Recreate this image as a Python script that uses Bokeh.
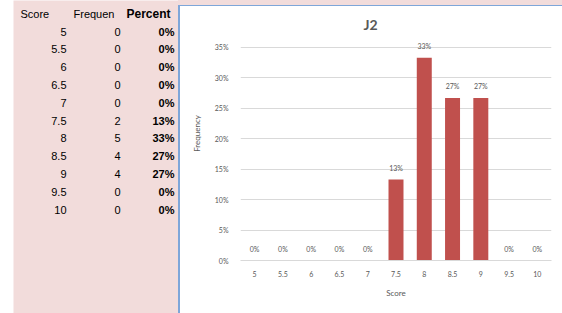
from bokeh.plotting import figure
from bokeh.layouts import row, column
from bokeh.models import (ColumnDataSource, Range1d, FactorRange, Label, Div,
                          NumeralTickFormatter, FixedTicker)
from bokeh.core.properties import value
from bokeh.embed import file_html
from bokeh.resources import INLINE

# ---- data ----
scores = ["5", "5.5", "6", "6.5", "7", "7.5", "8", "8.5", "9", "9.5", "10"]
frequencies = [0, 0, 0, 0, 0, 2, 5, 4, 4, 0, 0]
percents = [0.0, 0.0, 0.0, 0.0, 0.0, 0.133, 0.333, 0.267, 0.267, 0.0, 0.0]
headers = ["Score", "Frequen", "Percent"]
y_tick_step = 0.05
y_tick_count = 8
chart_title = "J2"

pct_labels = ["{:.0f}%".format(v * 100) for v in percents]

PINK = "#F2DCDB"
GREY = "#595959"
BAR = "#C0504D"
BORDER = "#7EA6D9"

H = 313
BOTTOM = 53      # space under the chart frame
PX_PER_UNIT = 608.6   # chart scale: pixels per 100%
ZERO_Y = 260     # page y of the 0% line


def solid(width, height, color):
    return Div(text="", width=width, height=height, margin=0,
               styles={"background-color": color})


# ---- left: worksheet table ----
WA = 165
row_step = 17.8
first_row = 31.0
pa = figure(width=WA, height=H, output_backend="svg", toolbar_location=None,
            x_range=Range1d(0, WA),
            y_range=Range1d((H - first_row) / row_step, -first_row / row_step),
            min_border=0)
pa.axis.visible = False
pa.grid.visible = False
pa.outline_line_color = None
pa.background_fill_color = PINK
pa.border_fill_color = PINK

rows = list(range(len(scores)))
tsrc = ColumnDataSource(dict(r=rows, s=scores, f=[str(v) for v in frequencies], p=pct_labels))
font = value("Liberation Sans")
common = dict(source=tsrc, text_font=font, text_font_size="11px",
              text_baseline="middle", text_color="black")
pa.text(x=53, y="r", text="s", text_align="right", **common)
pa.text(x=107, y="r", text="f", text_align="right", **common)
pa.text(x=161, y="r", text="p", text_align="right", text_font_style="bold", **common)
hsrc = ColumnDataSource(dict(x=[7, 60], y=[-1, -1], t=headers[:2]))
pa.text(x="x", y="y", text="t", source=hsrc, text_font=font, text_font_size="11px",
        text_align="left", text_baseline="middle", text_color="black")
pa.text(x=[113], y=[-1], text=[headers[2]], text_font=font, text_font_size="12px",
        text_align="left", text_baseline="middle", text_color="black",
        text_font_style="bold")

# ---- right: chart ----
WB = 382
TOP_PINK = 5
TOP_LINE = 1
HB = H - TOP_PINK - TOP_LINE
frame_top = TOP_PINK + TOP_LINE
pb = figure(width=WB, height=HB, output_backend="svg", toolbar_location=None,
            x_range=FactorRange(factors=scores, range_padding=0),
            y_range=Range1d(0, (ZERO_Y - frame_top) / PX_PER_UNIT),
            min_border_left=60, min_border_right=11, min_border_top=0,
            min_border_bottom=BOTTOM)
pb.background_fill_color = "white"
pb.border_fill_color = "white"
pb.outline_line_color = None

src = ColumnDataSource(dict(x=scores, y=percents, lab=pct_labels))
pb.vbar(x="x", top="y", width=0.53, source=src, fill_color=BAR, line_color=None)
pb.text(x="x", y="y", text="lab", source=src, y_offset=-8, text_align="center",
        text_baseline="bottom", text_font=value("Lato"), text_font_size="7px",
        text_color=GREY)

cfont = "Lato"
pb.xgrid.visible = False
pb.ygrid.grid_line_color = "#D9D9D9"
pb.ygrid.grid_line_width = 1

pb.yaxis.ticker = FixedTicker(ticks=[i * y_tick_step for i in range(y_tick_count)])
pb.yaxis.formatter = NumeralTickFormatter(format="0%")
pb.yaxis.axis_line_color = None
pb.yaxis.major_tick_line_color = None
pb.yaxis.minor_tick_line_color = None
pb.yaxis.major_tick_out = 0
pb.yaxis.major_label_standoff = 12
pb.yaxis.axis_label = "Frequency"
pb.yaxis.axis_label_standoff = 10

pb.xaxis.axis_line_color = "#D9D9D9"
pb.xaxis.major_tick_line_color = None
pb.xaxis.minor_tick_line_color = None
pb.xaxis.major_tick_out = 0
pb.xaxis.major_label_standoff = 10
pb.xaxis.axis_label = "Score"
pb.xaxis.axis_label_standoff = 8

for ax in (pb.xaxis, pb.yaxis):
    ax.major_label_text_font = cfont
    ax.major_label_text_font_size = "7px"
    ax.major_label_text_color = GREY
    ax.axis_label_text_font = cfont
    ax.axis_label_text_font_size = "8px"
    ax.axis_label_text_font_style = "normal"
    ax.axis_label_text_color = GREY

pb.add_layout(Label(x=130, y=(ZERO_Y - 24) / PX_PER_UNIT, x_units="screen",
                    text=chart_title, text_align="center", text_baseline="middle",
                    text_font=cfont, text_font_size="14px", text_font_style="bold",
                    text_color=GREY))

right = column(solid(WB, TOP_PINK, PINK), solid(WB, TOP_LINE, BORDER), pb, spacing=0)
edge = column(solid(2, TOP_PINK, PINK), solid(2, H - TOP_PINK, BORDER), spacing=0)
layout = row(solid(13, H, "white"), pa, edge, right, spacing=0)
open("out.html", "w").write(file_html(layout, INLINE))
